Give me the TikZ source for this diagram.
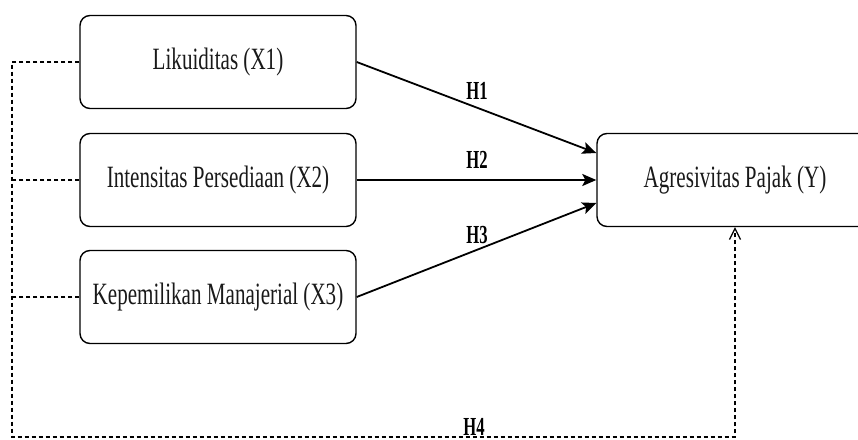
\documentclass[tikz,border=0pt]{standalone}
\usepackage{fontspec}
\usetikzlibrary{arrows.meta}
\newfontfamily\condserif{Liberation Serif}[FakeStretch=0.68]
\newfontfamily\condlab{Liberation Serif}[FakeStretch=0.64]
\begin{document}
\begin{tikzpicture}[x=1pt,y=-1pt,
  box/.style={draw, line width=1.4pt, rounded corners=10pt, minimum width=276pt,
    minimum height=93pt, inner sep=0pt, text=black!90,
    font=\condserif\fontsize{31}{33}\selectfont},
  hyp/.style={line width=1.8pt, -{Stealth[length=14pt,width=12pt,inset=3pt]}},
  dsh/.style={line width=1.4pt, dash pattern=on 4pt off 3pt},
  lab/.style={font=\condlab\bfseries\fontsize{26}{28}\selectfont, inner sep=0pt}]
\useasboundingbox (0,0) rectangle (858,439);
\clip (0,0) rectangle (858,439);

\node[box] (x1) at (218,62) {Likuiditas (X1)};
\node[box] (x2) at (218,180) {Intensitas Persediaan (X2)};
\node[box] (x3) at (218,297) {Kepemilikan Manajerial (X3)};
\node[box] (y)  at (735,180) {Agresivitas Pajak (Y)};

\draw[hyp] (x1.east) -- ([yshift=27pt]y.west);
\draw[hyp] (x2.east) -- (y.west);
\draw[hyp] (x3.east) -- ([yshift=-23pt]y.west);

\node[lab] (h1) at (477,91) {H1};
\node[lab] (h2) at (477,160) {H2};
\node[lab] (h3) at (477,235) {H3};

\coordinate (c1) at (12,62);
\coordinate (c2) at (12,180);
\coordinate (c3) at (12,297);
\coordinate (cb) at (12,437);
\draw[dsh, -{Straight Barb[length=11pt,width=11pt,line width=1.2pt]}]
  (x1.west) -- (c1) -- (cb) -- (y.south |- cb) -- (y.south);
\draw[dsh] (x2.west) -- (c2);
\draw[dsh] (x3.west) -- (c3);
\node[lab, text depth=0pt, anchor=base] (h4) at (474,435) {H4};
\end{tikzpicture}
\end{document}
